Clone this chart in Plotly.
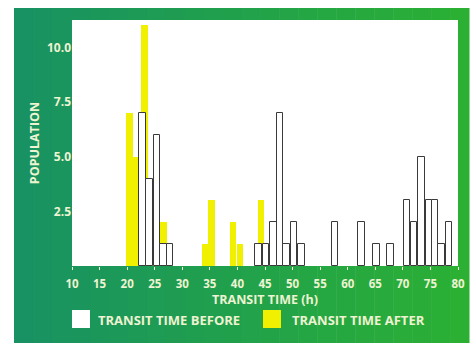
import plotly.graph_objects as go

# Transit time bins (h) and population counts
before_time = [22.8, 24.06, 25.42, 26.59, 27.77, 43.82, 45.18, 46.54, 47.72, 48.9,
               50.26, 51.62, 57.7, 62.5, 65.22, 67.76, 70.75, 72.02, 73.38, 74.74,
               75.83, 77.01, 78.37]
before_pop = [7, 4, 6, 1, 1, 1, 1, 2, 7, 1,
              2, 1, 2, 2, 1, 1, 3, 2, 5, 3,
              3, 1, 2]

after_time = [20.43, 21.65, 23.15, 24.15, 25.32, 26.59, 34.12, 35.3, 39.2, 40.47, 44.28]
after_pop = [7, 5, 11, 1, 1, 2, 1, 3, 2, 1, 3]

x_ticks = [10, 15, 20, 25, 30, 35, 40, 45, 50, 55, 60, 65, 70, 75, 80]
y_ticks = [2.5, 5.0, 7.5, 10.0]
y_ticktext = ["2.5", "5.0", "7.5", "10.0"]

YELLOW = "#f0f000"
PALE = "#eef3d2"
FONT = "Open Sans"

L, R, T, B = 72, 17, 20, 77
W, H = 475, 343
PW = W - L - R
PH = H - T - B


def px(xp):
    return (xp - L) / PW


def py(yp):
    return (H - B - yp) / PH


fig = go.Figure()
fig.add_trace(go.Bar(
    x=after_time, y=after_pop, width=1.2, name="TRANSIT TIME AFTER",
    marker=dict(color=YELLOW, line=dict(width=0)),
))
fig.add_trace(go.Bar(
    x=before_time, y=before_pop, width=1.2, name="TRANSIT TIME BEFORE",
    marker=dict(color="white", line=dict(color="#3a3a3a", width=1)),
))

fig.update_layout(
    width=W, height=H,
    margin=dict(l=L, r=R, t=T, b=B),
    paper_bgcolor="white",
    plot_bgcolor="white",
    barmode="overlay",
    bargap=0,
    showlegend=False,
    font=dict(family=FONT, color=PALE, size=10),
    xaxis=dict(
        range=[10, 80], tickvals=x_ticks, showgrid=False, zeroline=False,
        automargin=False,
        ticks="outside", ticklen=3, tickcolor=PALE, tickwidth=1,
        ticklabelstandoff=4,
        tickfont=dict(family=FONT, size=11.5, color=PALE, weight="bold"),
        title=dict(text="TRANSIT TIME (h)", standoff=0,
                   font=dict(family=FONT, size=12.5, color=PALE, weight="bold")),
        showline=False,
    ),
    yaxis=dict(
        range=[0, 11.25], tickvals=y_ticks, ticktext=y_ticktext,
        automargin=False,
        showgrid=False, zeroline=False, showline=False, ticks="",
        tickfont=dict(family=FONT, size=12, color=PALE, weight="bold"),
        title=dict(text="POPULATION", standoff=4,
                   font=dict(family=FONT, size=12.5, color=PALE, weight="bold")),
    ),
)

# green panel with a gentle teal-to-green gradient
c0 = (0x18, 0x92, 0x62)
c1 = (0x2b, 0xb0, 0x34)
n = 24
xl, xr = 14, 469
for i in range(n):
    t = i / (n - 1)
    col = "rgb(%d,%d,%d)" % tuple(round(a + (b - a) * t) for a, b in zip(c0, c1))
    fig.add_shape(type="rect", xref="paper", yref="paper", layer="below",
                  x0=px(xl + (xr - xl) * i / n), x1=px(xl + (xr - xl) * (i + 1) / n + 0.5),
                  y0=py(H + 2), y1=py(8), fillcolor=col, line=dict(width=0))
fig.add_shape(type="rect", xref="paper", yref="paper", layer="below",
              x0=0, x1=1, y0=0, y1=1,
              fillcolor="white", line=dict(width=0))

# custom legend
leg_y0 = py(328)
leg_y1 = py(310)
fig.add_shape(type="rect", xref="paper", yref="paper",
              x0=px(72), x1=px(90), y0=leg_y0, y1=leg_y1,
              fillcolor="white", line=dict(width=0))
fig.add_shape(type="rect", xref="paper", yref="paper",
              x0=px(263), x1=px(281), y0=leg_y0, y1=leg_y1,
              fillcolor=YELLOW, line=dict(width=0))
fig.add_annotation(xref="paper", yref="paper", x=px(96), y=py(320),
                   text="TRANSIT TIME BEFORE", showarrow=False, xanchor="left", yanchor="middle",
                   font=dict(family=FONT, size=13, color=PALE, weight="bold"))
fig.add_annotation(xref="paper", yref="paper", x=px(290), y=py(320),
                   text="TRANSIT TIME AFTER", showarrow=False, xanchor="left", yanchor="middle",
                   font=dict(family=FONT, size=13, color=PALE, weight="bold"))

fig.write_html(
    "out.html",
    config={"displayModeBar": False},
    post_script="document.body.style.margin='0';document.body.style.overflow='hidden';",
)
